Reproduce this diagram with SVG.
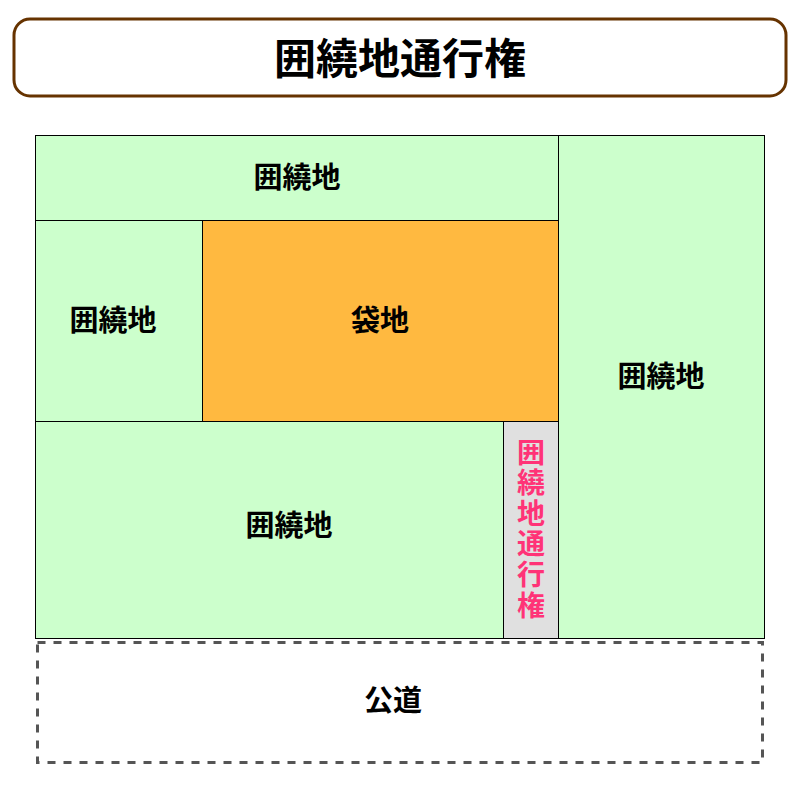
<svg xmlns="http://www.w3.org/2000/svg" width="800" height="800" viewBox="0 0 800 800">
<style>
text{font-family:"Noto Sans CJK JP","Noto Sans CJK SC",sans-serif;font-weight:bold;text-anchor:middle;dominant-baseline:central;fill:#000}
.land{fill:#CCFFCC;stroke:#000;stroke-width:1}
.lbl{font-size:29px}
.v{font-size:28px;fill:#FF3377;writing-mode:vertical-rl;letter-spacing:2.6px;text-anchor:start}
</style>
<rect width="800" height="800" fill="#fff"/>
<g id="title">
<rect x="14" y="19" width="772" height="77" rx="16" fill="#fff" stroke="#663300" stroke-width="3"/>
<text x="400" y="55" style="font-size:42px">囲繞地通行権</text>
</g>
<g id="top">
<rect class="land" x="35.5" y="135.5" width="523" height="85"/>
<text class="lbl" x="297" y="175">囲繞地</text>
</g>
<g id="right">
<rect class="land" x="558.5" y="135.5" width="206" height="503"/>
<text class="lbl" x="661" y="374">囲繞地</text>
</g>
<g id="left">
<rect class="land" x="35.5" y="220.5" width="167" height="201"/>
<text class="lbl" x="113" y="318">囲繞地</text>
</g>
<g id="fukuro">
<rect x="202.5" y="220.5" width="356" height="201" fill="#FFB940" stroke="#000" stroke-width="1"/>
<text class="lbl" x="380" y="318">袋地</text>
</g>
<g id="bottom">
<rect class="land" x="35.5" y="421.5" width="468" height="217"/>
<text class="lbl" x="289" y="523">囲繞地</text>
</g>
<g id="access">
<rect x="503.5" y="421.5" width="55" height="217" fill="#E0E0E0" stroke="#000" stroke-width="1"/>
<text class="v" x="531" y="438">囲繞地通行権</text>
</g>
<g id="road">
<rect x="37.5" y="642.5" width="725" height="120" fill="none" stroke="#555" stroke-width="3" stroke-dasharray="8 8"/>
<text class="lbl" x="393" y="698">公道</text>
</g>
<g id="connectors"></g>
</svg>
